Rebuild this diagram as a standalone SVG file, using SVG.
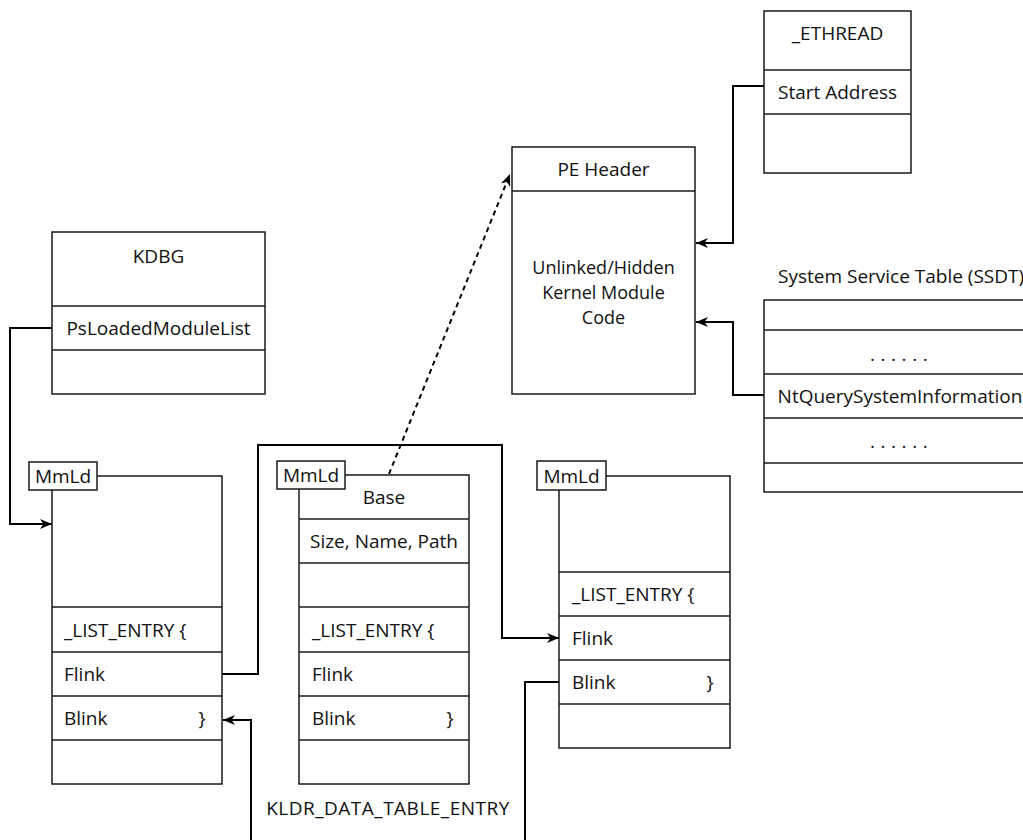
<svg xmlns="http://www.w3.org/2000/svg" width="1023" height="840" viewBox="0 0 1023 840">
<style>
  .box { fill: #ffffff; stroke: #1a1a1a; stroke-width: 1.5; }
  .div { stroke: #1a1a1a; stroke-width: 1.5; fill: none; }
  .t { font-family: "Open Sans", "Noto Sans", "Liberation Sans", sans-serif; font-size: 19px; fill: #111; dominant-baseline: central; }
  .ml { font-size: 18px; }
  .c { text-anchor: middle; }
  .conn { fill: none; stroke: #000; stroke-width: 2; }
  .dash { fill: none; stroke: #000; stroke-width: 2; stroke-dasharray: 5 4; }
</style>
<defs>
  <marker id="arr" viewBox="0 0 12 10" refX="12" refY="5" markerWidth="12" markerHeight="10" markerUnits="userSpaceOnUse" orient="auto">
    <path d="M0,0 L12,5 L0,10 L3.5,5 z" fill="#000"/>
  </marker>
</defs>
<rect width="1023" height="840" fill="#ffffff"/>

<g id="connectors">
  <path class="conn" d="M52,328 H10 V524 H52" marker-end="url(#arr)"/>
  <path class="conn" d="M222,674 H258 V445 H502 V638 H559" marker-end="url(#arr)"/>
  <path class="conn" d="M559,682 H525 V870 H251 V720 H223" marker-end="url(#arr)"/>
  <path class="dash" d="M389,474 L510,174" marker-end="url(#arr)"/>
  <path class="conn" d="M764,86 H733 V243 H696" marker-end="url(#arr)"/>
  <path class="conn" d="M764,395 H733 V322 H696" marker-end="url(#arr)"/>
</g>

<g id="ethread">
  <rect class="box" x="764" y="11" width="147" height="162"/>
  <line class="div" x1="764" y1="70" x2="911" y2="70"/>
  <line class="div" x1="764" y1="114" x2="911" y2="114"/>
  <text class="t c" x="837.5" y="33">_ETHREAD</text>
  <text class="t c" x="837.5" y="92">Start Address</text>
</g>

<g id="pe-header">
  <rect class="box" x="512" y="147" width="183" height="247"/>
  <line class="div" x1="512" y1="191" x2="695" y2="191"/>
  <text class="t c" x="603.5" y="169">PE Header</text>
  <text class="t ml c" x="603.5" y="267">Unlinked/Hidden</text>
  <text class="t ml c" x="603.5" y="292">Kernel Module</text>
  <text class="t ml c" x="603.5" y="317">Code</text>
</g>

<g id="ssdt">
  <text class="t" x="778" y="276">System Service Table (SSDT)</text>
  <rect class="box" x="764" y="300" width="300" height="192"/>
  <line class="div" x1="764" y1="330" x2="1064" y2="330"/>
  <line class="div" x1="764" y1="374" x2="1064" y2="374"/>
  <line class="div" x1="764" y1="418" x2="1064" y2="418"/>
  <line class="div" x1="764" y1="463" x2="1064" y2="463"/>
  <text class="t c" x="899" y="354" letter-spacing="0.3">. . . . . .</text>
  <text class="t c" x="900" y="396">NtQuerySystemInformation</text>
  <text class="t c" x="899" y="441" letter-spacing="0.3">. . . . . .</text>
</g>

<g id="kdbg">
  <rect class="box" x="52" y="232" width="213" height="162"/>
  <line class="div" x1="52" y1="306" x2="265" y2="306"/>
  <line class="div" x1="52" y1="350" x2="265" y2="350"/>
  <text class="t c" x="158.5" y="256">KDBG</text>
  <text class="t c" x="158.5" y="328">PsLoadedModuleList</text>
</g>

<g id="entry-left">
  <rect class="box" x="52" y="476" width="170" height="308"/>
  <line class="div" x1="52" y1="607" x2="222" y2="607"/>
  <line class="div" x1="52" y1="652" x2="222" y2="652"/>
  <line class="div" x1="52" y1="696" x2="222" y2="696"/>
  <line class="div" x1="52" y1="740" x2="222" y2="740"/>
  <rect class="box" x="29" y="462" width="68" height="28" stroke-width="1.2"/>
  <text class="t c" x="63" y="476">MmLd</text>
  <text class="t" x="64" y="630">_LIST_ENTRY {</text>
  <text class="t" x="64" y="674">Flink</text>
  <text class="t" x="64" y="718">Blink</text>
  <text class="t c" x="202" y="718">}</text>
</g>

<g id="entry-middle">
  <rect class="box" x="299" y="475" width="170" height="309"/>
  <line class="div" x1="299" y1="519" x2="469" y2="519"/>
  <line class="div" x1="299" y1="563" x2="469" y2="563"/>
  <line class="div" x1="299" y1="607" x2="469" y2="607"/>
  <line class="div" x1="299" y1="652" x2="469" y2="652"/>
  <line class="div" x1="299" y1="696" x2="469" y2="696"/>
  <line class="div" x1="299" y1="740" x2="469" y2="740"/>
  <rect class="box" x="277" y="461" width="68" height="28" stroke-width="1.2"/>
  <text class="t c" x="311" y="475">MmLd</text>
  <text class="t c" x="384" y="497">Base</text>
  <text class="t c" x="384" y="541">Size, Name, Path</text>
  <text class="t" x="312" y="630">_LIST_ENTRY {</text>
  <text class="t" x="312" y="674">Flink</text>
  <text class="t" x="312" y="718">Blink</text>
  <text class="t c" x="450" y="718">}</text>
  <text class="t c" x="388" y="808" letter-spacing="0.5">KLDR_DATA_TABLE_ENTRY</text>
</g>

<g id="entry-right">
  <rect class="box" x="559" y="476" width="171" height="272"/>
  <line class="div" x1="559" y1="572" x2="730" y2="572"/>
  <line class="div" x1="559" y1="616" x2="730" y2="616"/>
  <line class="div" x1="559" y1="660" x2="730" y2="660"/>
  <line class="div" x1="559" y1="704" x2="730" y2="704"/>
  <rect class="box" x="537" y="461" width="69" height="29" stroke-width="1.2"/>
  <text class="t c" x="571.5" y="475.5">MmLd</text>
  <text class="t" x="572" y="594">_LIST_ENTRY {</text>
  <text class="t" x="572" y="638">Flink</text>
  <text class="t" x="572" y="682">Blink</text>
  <text class="t c" x="710" y="682">}</text>
</g>
</svg>
